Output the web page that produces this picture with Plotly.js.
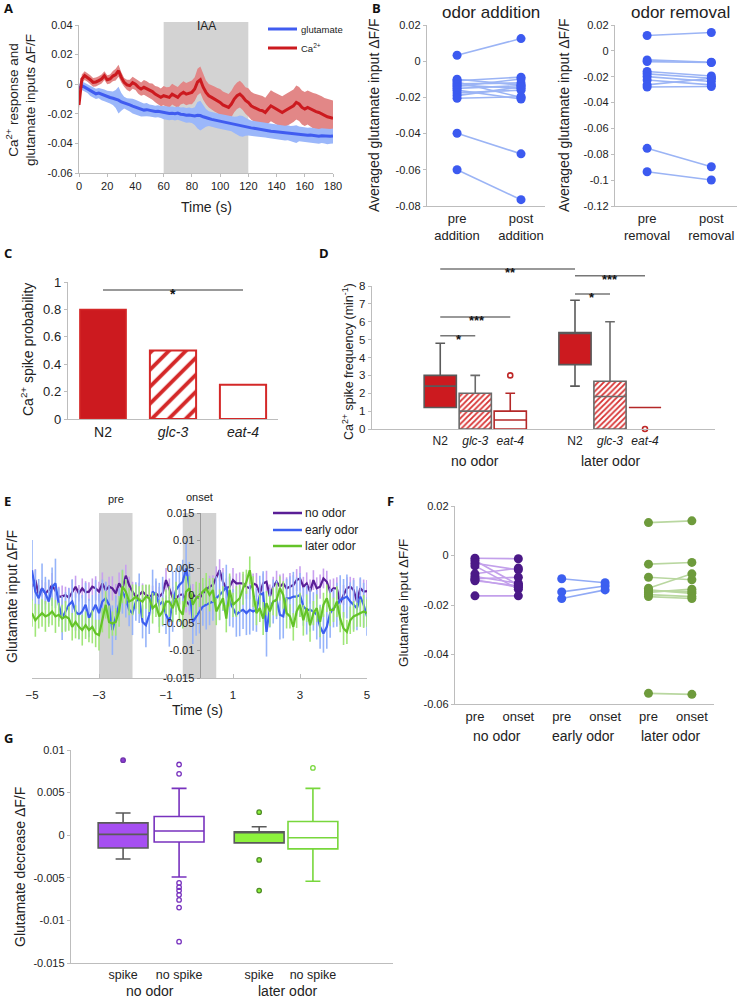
<!DOCTYPE html>
<html><head><meta charset="utf-8">
<script src="https://cdn.plot.ly/plotly-3.0.1.min.js"></script>
<style>html,body{margin:0;padding:0;background:#fff}#chart{width:743px;height:1007px}</style>
</head><body><div id="chart"></div>
<script>
// ---------------- DATA ----------------
// Panel A (time, s)
const tA = [0,2,4,6,8,10,12,14,16,18,
20,22,24,26,28,30,32,34,36,38,
40,42,44,46,48,50,52,54,56,58,
60,62,64,66,68,70,72,74,76,78,
80,82,84,86,88,90,92,94,96,98,
100,102,104,106,108,110,112,114,116,118,
120,122,124,126,128,130,132,134,136,138,
140,142,144,146,148,150,152,154,156,158,
160,162,164,166,168,170,172,174,176,178,
180];
const caMeanA = [-0.0140,0.0035,0.0058,0.0046,0.0030,0.0012,0.0015,0.0024,0.0035,0.0058,
0.0030,0.0035,0.0055,0.0065,0.0091,0.0046,0.0012,-0.0005,-0.0010,0.0010,
0.0000,-0.0020,-0.0033,-0.0021,-0.0030,-0.0044,-0.0050,-0.0067,-0.0078,-0.0089,
-0.0078,-0.0085,-0.0089,-0.0067,-0.0078,-0.0089,-0.0067,-0.0055,-0.0067,-0.0060,
-0.0055,-0.0033,0.0015,0.0030,-0.0020,-0.0055,-0.0078,-0.0089,-0.0100,-0.0110,
-0.0123,-0.0140,-0.0150,-0.0157,-0.0134,-0.0100,-0.0078,-0.0067,-0.0085,-0.0110,
-0.0123,-0.0146,-0.0157,-0.0168,-0.0175,-0.0179,-0.0191,-0.0168,-0.0146,-0.0157,
-0.0168,-0.0179,-0.0191,-0.0179,-0.0168,-0.0157,-0.0146,-0.0123,-0.0134,-0.0157,
-0.0168,-0.0157,-0.0168,-0.0179,-0.0185,-0.0191,-0.0202,-0.0213,-0.0220,-0.0225,
-0.0230];
const caErrA = [0.0030,0.0030,0.0030,0.0030,0.0030,0.0030,0.0030,0.0030,0.0030,0.0030,
0.0030,0.0030,0.0035,0.0040,0.0040,0.0035,0.0030,0.0035,0.0040,0.0040,
0.0040,0.0045,0.0045,0.0050,0.0050,0.0050,0.0055,0.0055,0.0060,0.0060,
0.0065,0.0065,0.0070,0.0070,0.0070,0.0070,0.0070,0.0075,0.0075,0.0075,
0.0080,0.0080,0.0090,0.0090,0.0085,0.0080,0.0080,0.0080,0.0085,0.0085,
0.0090,0.0090,0.0090,0.0090,0.0090,0.0090,0.0090,0.0090,0.0090,0.0090,
0.0095,0.0095,0.0095,0.0100,0.0100,0.0100,0.0100,0.0100,0.0105,0.0105,
0.0105,0.0105,0.0110,0.0110,0.0110,0.0110,0.0110,0.0115,0.0115,0.0115,
0.0115,0.0115,0.0115,0.0120,0.0120,0.0120,0.0120,0.0120,0.0120,0.0120,
0.0120];
const gluMeanA = [-0.0030,-0.0010,-0.0020,-0.0030,-0.0045,-0.0055,-0.0065,-0.0060,-0.0068,-0.0075,
-0.0085,-0.0090,-0.0095,-0.0100,-0.0108,-0.0120,-0.0125,-0.0135,-0.0140,-0.0148,
-0.0155,-0.0162,-0.0168,-0.0175,-0.0172,-0.0178,-0.0180,-0.0185,-0.0183,-0.0188,
-0.0192,-0.0196,-0.0198,-0.0196,-0.0200,-0.0195,-0.0203,-0.0205,-0.0210,-0.0208,
-0.0212,-0.0215,-0.0210,-0.0212,-0.0220,-0.0228,-0.0232,-0.0238,-0.0242,-0.0248,
-0.0252,-0.0255,-0.0258,-0.0265,-0.0268,-0.0275,-0.0278,-0.0282,-0.0285,-0.0288,
-0.0292,-0.0295,-0.0298,-0.0302,-0.0305,-0.0308,-0.0310,-0.0314,-0.0318,-0.0320,
-0.0322,-0.0325,-0.0328,-0.0330,-0.0328,-0.0332,-0.0335,-0.0338,-0.0336,-0.0340,
-0.0342,-0.0345,-0.0343,-0.0347,-0.0350,-0.0352,-0.0348,-0.0350,-0.0355,-0.0352,
-0.0350];
const gluErrA = [0.0030,0.0030,0.0030,0.0030,0.0035,0.0035,0.0035,0.0035,0.0040,0.0040,
0.0040,0.0040,0.0045,0.0060,0.0090,0.0060,0.0040,0.0040,0.0045,0.0050,
0.0050,0.0050,0.0050,0.0045,0.0045,0.0040,0.0040,0.0040,0.0040,0.0040,
0.0045,0.0045,0.0045,0.0045,0.0045,0.0045,0.0045,0.0050,0.0050,0.0050,
0.0050,0.0060,0.0090,0.0100,0.0080,0.0060,0.0050,0.0050,0.0050,0.0050,
0.0050,0.0050,0.0050,0.0050,0.0050,0.0055,0.0060,0.0070,0.0070,0.0060,
0.0055,0.0050,0.0050,0.0050,0.0050,0.0050,0.0050,0.0050,0.0050,0.0050,
0.0050,0.0050,0.0050,0.0050,0.0050,0.0050,0.0055,0.0060,0.0050,0.0050,
0.0050,0.0050,0.0050,0.0050,0.0050,0.0050,0.0050,0.0050,0.0050,0.0050,
0.0050];

// Panel B
const preAdd  = [0.0033,-0.0100,-0.0108,-0.0115,-0.0125,-0.0132,-0.0140,-0.0150,-0.0160,-0.0175,-0.0190,-0.0205,-0.0398,-0.0600];
const postAdd = [0.0125,-0.0132,-0.0088,-0.0200,-0.0120,-0.0150,-0.0098,-0.0135,-0.0209,-0.0160,-0.0142,-0.0196,-0.0512,-0.0765];
const preRem  = [0.0119,-0.0070,-0.0083,-0.0160,-0.0178,-0.0199,-0.0225,-0.0263,-0.0280,-0.0754,-0.0935];
const postRem = [0.0142,-0.0088,-0.0090,-0.0194,-0.0212,-0.0237,-0.0263,-0.0212,-0.0276,-0.0896,-0.0999];
const bTicksAdd = ['pre<br>addition','post<br>addition'];
const bTicksRem = ['pre<br>removal','post<br>removal'];

// Panel C
const strainsC = ['N2','<i>glc-3</i>','<i>eat-4</i>'];
const probC = [0.8, 0.5, 0.25];

// Panel D (box statistics)
const labelsD = ['N2','<i>glc-3</i>','<i>eat-4</i>','N2','<i>glc-3</i>','<i>eat-4</i>'];
const q1D  = [1.2, 0.0, 0.0, 3.6, 0.0, 1.2];
const medD = [2.4, 1.0, 0.5, 5.4, 1.82, 1.2];
const q3D  = [3.0, 2.0, 1.0, 5.4, 2.67, 1.2];
const loD  = [1.2, 0.0, 0.0, 2.4, 0.0, 1.2];
const hiD  = [4.8, 3.0, 2.0, 7.2, 6.0, 1.2];
const outD = [[], [], [3.0], [], [], [0.0]];

// Panel E
const tE = [-5,-4.9,-4.8,-4.7,-4.6,-4.5,-4.4,-4.3,-4.2,-4.1,
-4,-3.9,-3.8,-3.7,-3.6,-3.5,-3.4,-3.3,-3.2,-3.1,
-3,-2.9,-2.8,-2.7,-2.6,-2.5,-2.4,-2.3,-2.2,-2.1,
-2,-1.9,-1.8,-1.7,-1.6,-1.5,-1.4,-1.3,-1.2,-1.1,
-1,-0.9,-0.8,-0.7,-0.6,-0.5,-0.4,-0.3,-0.2,-0.1,
0,0.1,0.2,0.3,0.4,0.5,0.6,0.7,0.8,0.9,
1,1.1,1.2,1.3,1.4,1.5,1.6,1.7,1.8,1.9,
2,2.1,2.2,2.3,2.4,2.5,2.6,2.7,2.8,2.9,
3,3.1,3.2,3.3,3.4,3.5,3.6,3.7,3.8,3.9,
4,4.1,4.2,4.3,4.4,4.5,4.6,4.7,4.8,4.9,
5];
const noOdorE = [0.0016,0.0028,0.0001,0.0013,0.0004,0.0010,0.0019,0.0007,-0.0002,-0.0002,
0.0001,-0.0004,0.0007,0.0016,0.0004,0.0013,0.0006,0.0007,0.0016,0.0013,
0.0007,0.0022,0.0010,0.0016,0.0013,0.0004,0.0022,0.0013,0.0036,0.0019,
0.0007,-0.0002,0.0001,0.0007,0.0001,-0.0002,0.0001,0.0004,-0.0002,0.0004,
0.0028,0.0013,-0.0004,-0.0005,0.0001,0.0002,-0.0011,-0.0017,0.0001,-0.0002,
-0.0005,0.0004,0.0010,0.0016,0.0019,0.0031,0.0046,0.0025,0.0013,0.0016,
0.0028,0.0022,0.0022,0.0022,0.0016,0.0013,0.0022,0.0019,0.0004,0.0022,
0.0025,-0.0002,0.0016,0.0025,0.0016,0.0022,0.0013,0.0016,0.0019,0.0028,
0.0031,0.0016,0.0022,0.0007,0.0028,0.0013,0.0016,0.0031,0.0025,0.0007,
0.0013,0.0013,-0.0014,0.0001,0.0013,0.0016,0.0010,-0.0011,0.0013,0.0007,
0.0008];
const earlyOdorE = [0.0046,0.0007,-0.0005,0.0013,0.0004,-0.0011,0.0016,0.0022,-0.0017,-0.0041,
-0.0029,-0.0017,-0.0011,-0.0029,-0.0035,-0.0029,-0.0017,-0.0041,-0.0029,-0.0017,
-0.0032,-0.0011,-0.0005,-0.0017,-0.0063,-0.0041,-0.0017,0.0007,-0.0005,-0.0026,
-0.0032,-0.0011,-0.0005,-0.0048,-0.0054,-0.0035,0.0007,0.0001,-0.0017,-0.0011,
-0.0035,-0.0048,-0.0011,0.0010,0.0019,0.0025,0.0049,0.0016,-0.0048,-0.0038,
-0.0029,-0.0020,-0.0017,-0.0014,-0.0011,-0.0005,0.0001,0.0007,0.0016,-0.0011,
-0.0023,-0.0035,-0.0029,-0.0026,-0.0032,-0.0026,-0.0029,-0.0026,0.0001,0.0004,
-0.0066,-0.0023,-0.0011,-0.0008,-0.0035,-0.0038,-0.0005,-0.0005,-0.0002,-0.0002,
0.0001,-0.0020,-0.0026,-0.0026,-0.0029,-0.0035,-0.0057,-0.0069,-0.0057,-0.0032,
-0.0023,-0.0017,-0.0008,-0.0005,-0.0002,-0.0011,-0.0017,-0.0023,-0.0002,-0.0017,
-0.0038];
const laterOdorE = [-0.0032,-0.0045,-0.0038,-0.0032,-0.0038,-0.0035,-0.0029,-0.0038,-0.0035,-0.0042,
-0.0038,-0.0042,-0.0057,-0.0048,-0.0057,-0.0063,-0.0054,-0.0063,-0.0057,-0.0069,
-0.0072,-0.0045,-0.0017,-0.0048,-0.0051,-0.0048,-0.0029,0.0016,0.0007,-0.0011,
-0.0008,-0.0002,-0.0008,-0.0011,-0.0002,-0.0005,-0.0023,-0.0017,-0.0038,-0.0029,
-0.0011,-0.0011,-0.0023,-0.0005,-0.0026,-0.0035,0.0007,0.0013,-0.0017,-0.0005,
0.0001,0.0007,0.0013,0.0001,0.0010,-0.0029,-0.0017,-0.0005,-0.0042,0.0010,
-0.0017,-0.0011,-0.0005,0.0013,0.0025,0.0046,0.0007,-0.0032,-0.0023,-0.0042,
-0.0014,-0.0029,-0.0011,-0.0008,0.0013,0.0001,-0.0032,-0.0038,-0.0057,-0.0029,
-0.0017,-0.0045,-0.0023,-0.0054,-0.0032,-0.0023,-0.0048,-0.0017,-0.0005,-0.0026,
-0.0026,-0.0011,-0.0042,-0.0060,-0.0066,-0.0045,-0.0038,-0.0035,-0.0032,-0.0029,
-0.0032];
const noOdorErrE = [0.0025,0.0020,0.0018,0.0015,0.0020,0.0018,0.0022,0.0015,0.0018,0.0020,
0.0015,0.0018,0.0022,0.0020,0.0015,0.0018,0.0020,0.0017,0.0015,0.0022,
0.0018,0.0020,0.0015,0.0018,0.0022,0.0017,0.0020,0.0018,0.0020,0.0015,
0.0018,0.0020,0.0022,0.0015,0.0018,0.0020,0.0017,0.0022,0.0018,0.0020,
0.0022,0.0018,0.0020,0.0025,0.0018,0.0022,0.0020,0.0018,0.0020,0.0022,
0.0020,0.0018,0.0022,0.0020,0.0018,0.0022,0.0020,0.0025,0.0018,0.0020,
0.0022,0.0018,0.0020,0.0017,0.0022,0.0020,0.0018,0.0022,0.0020,0.0018,
0.0020,0.0022,0.0018,0.0020,0.0022,0.0018,0.0020,0.0025,0.0018,0.0020,
0.0022,0.0018,0.0020,0.0022,0.0018,0.0020,0.0022,0.0018,0.0020,0.0022,
0.0018,0.0020,0.0022,0.0018,0.0020,0.0018,0.0022,0.0020,0.0018,0.0022,
0.0020];
const earlyOdorErrE = [0.0055,0.0040,0.0035,0.0045,0.0030,0.0040,0.0035,0.0045,0.0030,0.0040,
0.0035,0.0030,0.0040,0.0035,0.0045,0.0030,0.0040,0.0035,0.0030,0.0045,
0.0035,0.0040,0.0030,0.0035,0.0045,0.0040,0.0030,0.0040,0.0035,0.0030,
0.0040,0.0035,0.0045,0.0030,0.0040,0.0035,0.0040,0.0030,0.0040,0.0045,
0.0035,0.0045,0.0055,0.0040,0.0035,0.0040,0.0050,0.0045,0.0040,0.0035,
0.0040,0.0035,0.0045,0.0040,0.0035,0.0040,0.0045,0.0035,0.0040,0.0045,
0.0035,0.0040,0.0045,0.0035,0.0040,0.0045,0.0035,0.0040,0.0035,0.0040,
0.0045,0.0035,0.0040,0.0035,0.0045,0.0040,0.0035,0.0040,0.0045,0.0035,
0.0040,0.0035,0.0045,0.0040,0.0035,0.0045,0.0040,0.0035,0.0040,0.0045,
0.0035,0.0040,0.0045,0.0035,0.0040,0.0035,0.0045,0.0040,0.0035,0.0040,
0.0035];
const laterOdorErrE = [0.0025,0.0030,0.0022,0.0025,0.0028,0.0022,0.0025,0.0030,0.0022,0.0025,
0.0028,0.0022,0.0025,0.0030,0.0022,0.0028,0.0025,0.0022,0.0030,0.0025,
0.0028,0.0022,0.0025,0.0030,0.0022,0.0025,0.0028,0.0030,0.0022,0.0025,
0.0028,0.0022,0.0025,0.0030,0.0022,0.0025,0.0028,0.0022,0.0030,0.0025,
0.0022,0.0028,0.0025,0.0030,0.0022,0.0025,0.0028,0.0022,0.0025,0.0030,
0.0022,0.0025,0.0028,0.0030,0.0022,0.0025,0.0028,0.0022,0.0025,0.0030,
0.0022,0.0028,0.0025,0.0030,0.0022,0.0025,0.0028,0.0022,0.0025,0.0030,
0.0022,0.0028,0.0025,0.0030,0.0022,0.0025,0.0028,0.0022,0.0025,0.0030,
0.0022,0.0028,0.0025,0.0030,0.0022,0.0025,0.0028,0.0022,0.0025,0.0030,
0.0022,0.0028,0.0025,0.0030,0.0022,0.0025,0.0028,0.0022,0.0025,0.0030,
0.0025];

// Panel F (pre -> onset pairs)
const fNoPre    = [-0.0011,-0.0020,-0.0031,-0.0042,-0.0074,-0.0085,-0.0094,-0.0098,-0.0102,-0.0163];
const fNoOnset  = [-0.0013,-0.0119,-0.0058,-0.0136,-0.0051,-0.0112,-0.0088,-0.0128,-0.0122,-0.0163];
const fEarlyPre   = [-0.0094,-0.0147,-0.0174];
const fEarlyOnset = [-0.0110,-0.0123,-0.0139];
const fLatePre   = [0.0133,-0.0035,-0.0088,-0.0132,-0.0139,-0.0143,-0.0149,-0.0158,-0.0166,-0.0557];
const fLateOnset = [0.0140,-0.0028,-0.0098,-0.0074,-0.0153,-0.0146,-0.0136,-0.0166,-0.0174,-0.0561];
const fTicks = ['pre','onset','pre','onset','pre','onset'];

// Panel G (box statistics)
const labelsG = ['spike','no spike','spike','no spike'];
const q1G  = [-0.0015,-0.0008,-0.0009,-0.0016];
const medG = [0.0001, 0.0005, 0.0004,-0.0003];
const q3G  = [0.00145,0.0022, 0.0004, 0.0016];
const loG  = [-0.0028,-0.0049,-0.0009,-0.0054];
const hiG  = [0.0026, 0.0055, 0.0010, 0.0055];
const outG = [[0.0088],[0.0083,0.0072,-0.0056,-0.0061,-0.0065,-0.0070,-0.0076,-0.0085,-0.0125],[0.0027,-0.0029,-0.0065],[0.0079]];

// ---------------- LAYOUT HELPERS ----------------
const W = 743, H = 1007;
const FONT = 'Liberation Sans, Arial, sans-serif';
const X = px => px / W;
const Y = py => 1 - py / H;
const xd = (a, b) => [X(a), X(b)];
const yd = (top, bottom) => [Y(bottom), Y(top)];
const posD = [0, 1, 2, 3.85, 4.85, 5.85];
const posF = [0, 1, 2, 3, 4, 5];
const posG = [0, 1, 2.43, 3.39];

function ax(o) {
  return Object.assign({showline:true, linecolor:'#bdbdbd', linewidth:1.2, showgrid:false, zeroline:false,
    ticks:'outside', ticklen:3, tickcolor:'#bdbdbd', tickfont:{family:FONT, size:11, color:'#222'}, fixedrange:true}, o);
}

const traces = [];
// ---- A ----
function band(t, m, e) {
  const up = m.map((v, i) => v + e[i]);
  const lo = m.map((v, i) => v - e[i]);
  return {x: t.concat(t.slice().reverse()), y: up.concat(lo.reverse())};
}
const caBand = band(tA, caMeanA, caErrA);
const gluBand = band(tA, gluMeanA, gluErrA);
traces.push({type:'scatter', mode:'lines', x:caBand.x, y:caBand.y, fill:'toself', fillcolor:'rgb(226,135,135)', line:{width:0}, xaxis:'x', yaxis:'y', hoverinfo:'skip'});
traces.push({type:'scatter', mode:'lines', x:gluBand.x, y:gluBand.y, fill:'toself', fillcolor:'rgb(155,183,250)', line:{width:0}, xaxis:'x', yaxis:'y', hoverinfo:'skip'});
traces.push({type:'scatter', mode:'lines', x:tA, y:gluMeanA, line:{color:'rgb(64,92,240)', width:3}, xaxis:'x', yaxis:'y'});
traces.push({type:'scatter', mode:'lines', x:tA, y:caMeanA, line:{color:'rgb(204,26,31)', width:3}, xaxis:'x', yaxis:'y'});

// ---- B ----
function pairs(pre, post, x0, x1) {
  const x = [], y = [];
  pre.forEach((v, i) => { x.push(x0, x1, null); y.push(v, post[i], null); });
  return {x, y};
}
[[preAdd, postAdd, 'x2', 'y2'], [preRem, postRem, 'x3', 'y3']].forEach(([a, b, xa, ya]) => {
  const p = pairs(a, b, 0, 1);
  traces.push({type:'scatter', mode:'lines', x:p.x, y:p.y, line:{color:'rgb(155,180,245)', width:1.6}, xaxis:xa, yaxis:ya});
  traces.push({type:'scatter', mode:'markers', x:p.x, y:p.y, marker:{color:'rgb(60,90,240)', size:9}, xaxis:xa, yaxis:ya});
});

// ---- C ----
const posC = [0, 1, 2];
const cStyles = [
  {color:'rgb(204,26,31)', line:{color:'rgb(212,40,40)', width:1.5}},
  {color:'#fff', line:{color:'rgb(212,40,40)', width:2}, pattern:{shape:'/', fgcolor:'rgb(212,40,40)', bgcolor:'#fff', size:12, solidity:0.32}},
  {color:'#fff', line:{color:'rgb(212,40,40)', width:2}}
];
probC.forEach((v, i) => {
  traces.push({type:'bar', x:[posC[i]], y:[v], width:0.66, marker:cStyles[i], xaxis:'x4', yaxis:'y4'});
});

// ---- D ----
const dStyle = [
  {fill:'rgb(204,26,31)', line:'#5a5a5a', hatch:false},
  {fill:'rgba(0,0,0,0)', line:'#6a6a6a', hatch:true},
  {fill:'#fff', line:'rgb(180,40,40)', hatch:false},
  {fill:'rgb(204,26,31)', line:'#5a5a5a', hatch:false},
  {fill:'rgba(0,0,0,0)', line:'#6a6a6a', hatch:true},
  {fill:'#fff', line:'rgb(180,40,40)', hatch:false}
];
q1D.forEach((q, i) => {
  if (dStyle[i].hatch) {
    traces.push({type:'bar', x:[posD[i]], base:[q1D[i]], y:[q3D[i] - q1D[i]], width:0.92,
      marker:{color:'#fff', line:{width:0}, pattern:{shape:'/', fgcolor:'rgb(215,50,50)', bgcolor:'#fff', size:4, solidity:0.45}},
      xaxis:'x5', yaxis:'y5'});
  }
});
q1D.forEach((q, i) => {
  traces.push({type:'box', x:[posD[i]], q1:[q1D[i]], median:[medD[i]], q3:[q3D[i]], lowerfence:[loD[i]], upperfence:[hiD[i]],
    width:0.92, whiskerwidth:0.3, boxpoints:false, fillcolor:dStyle[i].fill, line:{color:dStyle[i].line, width:1.6},
    xaxis:'x5', yaxis:'y5', hoverinfo:'skip'});
  if (outD[i].length) {
    traces.push({type:'scatter', mode:'markers', x:outD[i].map(() => posD[i]), y:outD[i], cliponaxis:false,
      marker:{symbol:'circle-open', size:5, color:'rgb(190,40,40)', line:{width:1.6}}, xaxis:'x5', yaxis:'y5'});
  }
});

// ---- E ----
const eSeries = [
  {y:noOdorE, e:noOdorErrE, c:'rgb(90,30,150)', ec:'rgb(200,160,240)'},
  {y:earlyOdorE, e:earlyOdorErrE, c:'rgb(60,95,240)', ec:'rgb(150,180,250)'},
  {y:laterOdorE, e:laterOdorErrE, c:'rgb(100,195,40)', ec:'rgb(160,230,120)'}
];
eSeries.forEach(s => {
  traces.push({type:'scatter', mode:'lines', x:tE, y:s.y, line:{color:s.c, width:2.2},
    error_y:{type:'data', array:s.e, visible:true, color:s.ec, thickness:1.6, width:0}, xaxis:'x6', yaxis:'y6'});
});

// ---- F ----
const fGroups = [
  [fNoPre, fNoOnset, posF[0], posF[1], 'rgb(75,25,135)', 'rgb(195,160,235)'],
  [fEarlyPre, fEarlyOnset, posF[2], posF[3], 'rgb(60,95,240)', 'rgb(145,170,245)'],
  [fLatePre, fLateOnset, posF[4], posF[5], 'rgb(110,155,60)', 'rgb(185,215,160)']
];
fGroups.forEach(([a, b, x0, x1, mc, lc]) => {
  const p = pairs(a, b, x0, x1);
  traces.push({type:'scatter', mode:'lines', x:p.x, y:p.y, line:{color:lc, width:1.6}, xaxis:'x7', yaxis:'y7'});
  traces.push({type:'scatter', mode:'markers', x:p.x, y:p.y, marker:{color:mc, size:9}, xaxis:'x7', yaxis:'y7'});
});

// ---- G ----
const gStyle = [
  {fill:'rgb(166,79,242)', line:'#5a5a5a', oc:'rgb(110,50,170)', osym:'circle', ofill:'rgb(140,60,210)'},
  {fill:'#fff', line:'rgb(120,50,190)', oc:'rgb(120,50,190)', osym:'circle-open', ofill:'rgb(120,50,190)'},
  {fill:'rgb(141,242,60)', line:'#5a5a5a', oc:'rgb(80,140,40)', osym:'circle', ofill:'rgb(141,242,60)'},
  {fill:'#fff', line:'rgb(120,215,60)', oc:'rgb(120,215,60)', osym:'circle-open', ofill:'rgb(120,215,60)'}
];
q1G.forEach((q, i) => {
  traces.push({type:'box', x:[posG[i]], q1:[q1G[i]], median:[medG[i]], q3:[q3G[i]], lowerfence:[loG[i]], upperfence:[hiG[i]],
    width:0.89, whiskerwidth:0.3, boxpoints:false, fillcolor:gStyle[i].fill, line:{color:gStyle[i].line, width:1.6},
    xaxis:'x8', yaxis:'y8', hoverinfo:'skip'});
  traces.push({type:'scatter', mode:'markers', x:outG[i].map(() => posG[i]), y:outG[i],
    marker:{symbol:gStyle[i].osym, size:4.5, color:gStyle[i].ofill, line:{color:gStyle[i].oc, width:1.3}}, xaxis:'x8', yaxis:'y8'});
});

// ---------------- AXES ----------------
const layout = {
  width:W, height:H, margin:{l:0, r:0, t:0, b:0}, autosize:false,
  paper_bgcolor:'#fff', plot_bgcolor:'rgba(0,0,0,0)', showlegend:false, barmode:'overlay',
  font:{family:FONT, color:'#222'},
  xaxis: ax({domain:xd(79,333), range:[0,180], anchor:'y', tick0:0, dtick:20}),
  yaxis: ax({domain:yd(25,173), range:[-0.06,0.04], anchor:'x', tickvals:[-0.06,-0.04,-0.02,0,0.02,0.04], ticktext:['-0.06','-0.04','-0.02','0','0.02','0.04']}),
  xaxis2: ax({domain:xd(427,545), range:[-0.47,1.375], anchor:'y2', tickvals:[0,1], ticktext:bTicksAdd, ticks:'', tickfont:{family:FONT,size:13,color:'#222'}}),
  yaxis2: ax({domain:yd(25,206), range:[-0.08,0.02], anchor:'x2', tickvals:[-0.08,-0.06,-0.04,-0.02,0,0.02], ticktext:['-0.08','-0.06','-0.04','-0.02','0','0.02']}),
  xaxis3: ax({domain:xd(615,737), range:[-0.5,1.4], anchor:'y3', tickvals:[0,1], ticktext:bTicksRem, ticks:'', tickfont:{family:FONT,size:13,color:'#222'}}),
  yaxis3: ax({domain:yd(25,206), range:[-0.12,0.02], anchor:'x3', tickvals:[-0.12,-0.1,-0.08,-0.06,-0.04,-0.02,0,0.02], ticktext:['-0.12','-0.1','-0.08','-0.06','-0.04','-0.02','0','0.02']}),
  xaxis4: ax({domain:xd(68,278), range:[-0.5,2.5], anchor:'y4', tickvals:posC, ticktext:strainsC, ticks:'', tickfont:{family:FONT,size:14,color:'#222'}}),
  yaxis4: ax({domain:yd(282,419), range:[0,1], anchor:'x4', dtick:0.2, tick0:0, tickfont:{family:FONT,size:13,color:'#222'}}),
  xaxis5: ax({domain:xd(372,715), range:[-1.95,7.85], anchor:'y5', tickvals:posD, ticktext:labelsD, ticks:'', tickfont:{family:FONT,size:12,color:'#222'}}),
  yaxis5: ax({domain:yd(286,429), range:[0,8], anchor:'x5', dtick:1, tick0:0, tickfont:{family:FONT,size:11.5,color:'#222'}}),
  xaxis6: ax({domain:xd(32,367), range:[-5,5], anchor:'y6', tickvals:[-5,-3,-1,1,3,5], ticks:'inside', ticklen:4, ticklabelstandoff:6, tickfont:{family:FONT,size:11.5,color:'#222'}}),
  yaxis6: ax({domain:yd(513,678), range:[-0.015,0.015], anchor:'free', position:X(199.5), linecolor:'#999', tickcolor:'#999',
    tickvals:[-0.015,-0.01,-0.005,0,0.005,0.01,0.015], ticktext:['-0.015','-0.01','-0.005','0','0.005','0.01','0.015']}),
  xaxis7: ax({domain:xd(455,714), range:[-0.46,5.51], anchor:'y7', tickvals:posF, ticktext:fTicks, ticks:'', tickfont:{family:FONT,size:13,color:'#222'}}),
  yaxis7: ax({domain:yd(506,704), range:[-0.06,0.02], anchor:'x7', tickvals:[-0.06,-0.04,-0.02,0,0.02], ticktext:['-0.06','-0.04','-0.02','0','0.02']}),
  xaxis8: ax({domain:xd(71,393), range:[-0.93,4.82], anchor:'y8', tickvals:posG, ticktext:labelsG, ticks:'', tickfont:{family:FONT,size:12.5,color:'#222'}}),
  yaxis8: ax({domain:yd(750,963), range:[-0.015,0.01], anchor:'x8', tickvals:[-0.015,-0.01,-0.005,0,0.005,0.01], ticktext:['-0.015','-0.01','-0.005','0','0.005','0.01']})
};

// ---------------- SHAPES & ANNOTATIONS ----------------
const shapes = [];
const ann = [];
function txt(text, x, y, o) {
  ann.push(Object.assign({text, x, y, xref:'paper', yref:'paper', showarrow:false, xanchor:'center', yanchor:'middle',
    font:{family:FONT, size:12, color:'#222'}}, o || {}));
}
// panel letters
[['A',2,8],['B',370,8],['C',2,253],['D',317,253],['E',2,501],['F',385,501],['G',2,738]].forEach(([l, px, py]) => {
  txt('<b>' + l + '</b>', X(px), Y(py), {xanchor:'left', font:{family:'Open Sans, ' + FONT, size:13, color:'#111'}});
});
// A
shapes.push({type:'rect', xref:'x', yref:'y domain', x0:60, x1:120, y0:0, y1:1.02, fillcolor:'rgb(211,211,211)', line:{width:0}, layer:'below'});
ann.push({text:'IAA', x:90, xref:'x', y:Y(17), yref:'paper', showarrow:false, font:{family:FONT, size:12, color:'#222'}});
[['glutamate','rgb(64,92,240)',29],['Ca<sup>2+</sup>','rgb(204,26,31)',48]].forEach(([t, c, py]) => {
  shapes.push({type:'line', xref:'paper', yref:'paper', x0:X(268), x1:X(297), y0:Y(py), y1:Y(py), line:{color:c, width:3}});
  txt(t, X(299), Y(py), {xanchor:'left', font:{family:FONT, size:9.5, color:'#222'}});
});
txt('Ca<sup>2+</sup> response and<br>glutamate inputs ΔF/F', X(20), Y(100), {textangle:-90, font:{family:FONT, size:13.5, color:'#222'}});
txt('Time (s)', X(206), Y(207), {font:{family:FONT, size:14, color:'#222'}});
// B
txt('odor addition', X(491), Y(12), {font:{family:FONT, size:17, color:'#222'}});
txt('odor removal', X(680), Y(12), {font:{family:FONT, size:17, color:'#222'}});
txt('Averaged glutamate input ΔF/F', X(374), Y(115), {textangle:-90, font:{family:FONT, size:14, color:'#222'}});
txt('Averaged glutamate input ΔF/F', X(564), Y(115), {textangle:-90, font:{family:FONT, size:14, color:'#222'}});
// C
txt('Ca<sup>2+</sup> spike probability', X(27), Y(350), {textangle:-90, font:{family:FONT, size:14, color:'#222'}});
shapes.push({type:'line', xref:'x4', yref:'y4 domain', x0:posC[0], x1:posC[2], y0:0.942, y1:0.942, line:{color:'#777', width:1.5}});
ann.push({text:'<b>*</b>', x:posC[1], xref:'x4', y:0.985, yref:'y4 domain', showarrow:false, font:{family:FONT, size:14, color:'#111'}});
// D
txt('Ca<sup>2+</sup> spike frequency (min<sup>-1</sup>)', X(348), Y(362), {textangle:-90, font:{family:FONT, size:12.5, color:'#222'}});
const sigD = [
  [posD[0], posD[3], 1.119, 2.0, 1.16, '**'],
  [posD[3], posD[5], 1.072, 4.86, 1.11, '***'],
  [posD[3], posD[4], 0.944, 4.34, 0.985, '*'],
  [posD[0], posD[2], 0.783, 1.05, 0.825, '***'],
  [posD[0], posD[1], 0.652, 0.54, 0.69, '*']
];
sigD.forEach(([x0, x1, yl, xs, ys, s]) => {
  shapes.push({type:'line', xref:'x5', yref:'y5 domain', x0, x1, y0:yl, y1:yl, line:{color:'#777', width:1.5}});
  ann.push({text:'<b>' + s + '</b>', x:xs, xref:'x5', y:ys, yref:'y5 domain', showarrow:false, font:{family:FONT, size:13, color:'#111'}});
});
ann.push({text:'no odor', x:posD[1], xref:'x5', y:Y(461), yref:'paper', showarrow:false, font:{family:FONT, size:14, color:'#222'}});
ann.push({text:'later odor', x:posD[4], xref:'x5', y:Y(461), yref:'paper', showarrow:false, font:{family:FONT, size:14, color:'#222'}});
// E
shapes.push({type:'rect', xref:'x6', yref:'y6 domain', x0:-3, x1:-2, y0:0, y1:1, fillcolor:'rgb(210,210,210)', line:{width:0}, layer:'below'});
shapes.push({type:'rect', xref:'x6', yref:'y6 domain', x0:-0.5, x1:0.5, y0:0, y1:1, fillcolor:'rgb(210,210,210)', line:{width:0}, layer:'below'});
ann.push({text:'pre', x:-2.5, xref:'x6', y:Y(499), yref:'paper', showarrow:false, font:{family:FONT, size:11, color:'#222'}});
ann.push({text:'onset', x:0, xref:'x6', y:Y(497), yref:'paper', showarrow:false, font:{family:FONT, size:11, color:'#222'}});
[['no odor', eSeries[0].c, 513], ['early odor', eSeries[1].c, 530], ['later odor', eSeries[2].c, 546]].forEach(([t, c, py]) => {
  shapes.push({type:'line', xref:'paper', yref:'paper', x0:X(273), x1:X(302), y0:Y(py), y1:Y(py), line:{color:c, width:2.5}});
  txt(t, X(303), Y(py), {xanchor:'left', font:{family:FONT, size:12, color:'#222'}});
});
txt('Glutamate input ΔF/F', X(12), Y(597), {textangle:-90, font:{family:FONT, size:14, color:'#222'}});
txt('Time (s)', X(197), Y(710), {font:{family:FONT, size:14, color:'#222'}});
// F
txt('Glutamate input ΔF/F', X(403), Y(603), {textangle:-90, font:{family:FONT, size:13.5, color:'#222'}});
[['no odor', 0.5], ['early odor', 2.5], ['later odor', 4.5]].forEach(([t, x]) => {
  ann.push({text:t, x, xref:'x7', y:Y(746), yref:'paper', showarrow:false, font:{family:FONT, size:14, color:'#222'}});
});
// G
txt('Glutamate decrease ΔF/F', X(20), Y(867), {textangle:-90, font:{family:FONT, size:14, color:'#222'}});
[['no odor', 0.48], ['later odor', 2.93]].forEach(([t, x]) => {
  ann.push({text:t, x, xref:'x8', y:Y(1001), yref:'paper', showarrow:false, font:{family:FONT, size:14, color:'#222'}});
});

layout.shapes = shapes;
layout.annotations = ann;

Plotly.newPlot('chart', traces, layout, {staticPlot:true, displayModeBar:false});
</script></body></html>
